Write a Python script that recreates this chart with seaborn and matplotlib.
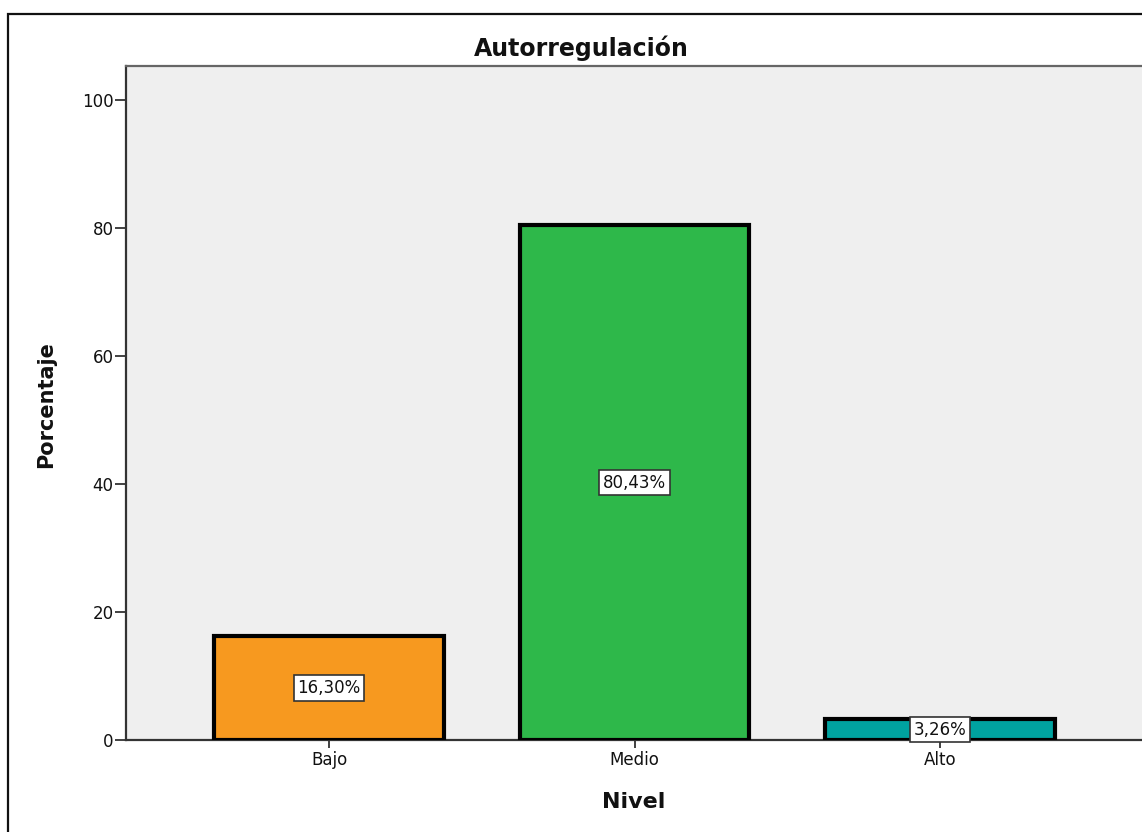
import matplotlib
matplotlib.use("Agg")
import matplotlib.pyplot as plt
from matplotlib.patches import Rectangle
import seaborn as sns
import pandas as pd

# Data
niveles = ["Bajo", "Medio", "Alto"]
porcentajes = [16.30, 80.43, 3.26]
colores = ["#F7991F", "#2EB84A", "#00A3A0"]
y_ticks = [0, 20, 40, 60, 80, 100]

sns.set_theme(style="white")
plt.rcParams["font.family"] = ["DejaVu Sans"]

W, H = 1142, 832
fig = plt.figure(figsize=(W / 100, H / 100), dpi=100)
ax = fig.add_axes([126 / W, (H - 740) / H, (1143 - 126) / W, (740 - 66) / H])

df = pd.DataFrame({"Nivel": niveles, "Porcentaje": porcentajes})
sns.barplot(data=df, x="Nivel", y="Porcentaje", hue="Nivel", palette=colores,
            order=niveles, hue_order=niveles, width=0.753, legend=False, saturation=1,
            edgecolor="black", linewidth=3, ax=ax, zorder=3)

ax.set_facecolor("#EFEFEF")
ax.set_xlim(-0.665, 2.665)
ax.set_ylim(0, 105.3)
ax.set_yticks(y_ticks)
ax.set_yticklabels([str(t) for t in y_ticks], fontsize=12, color="#111111")
ax.tick_params(axis="y", direction="out", length=8, width=1.3, color="#333333", pad=1, left=True)
ax.tick_params(axis="x", direction="out", length=6, width=1.3, color="#333333", pad=2, bottom=True,
               labelsize=12, labelcolor="#111111")

for side in ["left", "bottom"]:
    ax.spines[side].set_color("#333333")
    ax.spines[side].set_linewidth(1.6)
ax.spines["top"].set_color("#666666")
ax.spines["top"].set_linewidth(1.6)
ax.spines["right"].set_visible(False)

ax.set_xlabel("Nivel", fontsize=16, fontweight="bold", va="center", color="#111111")
ax.set_ylabel("Porcentaje", fontsize=15, fontweight="bold", va="center", color="#111111")
ax.xaxis.set_label_coords(634 / W, 1 - 802 / H, transform=fig.transFigure)
ax.yaxis.set_label_coords(46 / W, 1 - 405 / H, transform=fig.transFigure)

# Value labels in boxes at the middle of each bar
for i, v in enumerate(porcentajes):
    txt = f"{v:.2f}".replace(".", ",") + "%"
    ax.text(i, v / 2, txt, ha="center", va="center", fontsize=12, color="#111111", zorder=5,
            bbox=dict(boxstyle="square,pad=0.22", facecolor="white", edgecolor="#333333", linewidth=1.2))

fig.text(581 / W, 1 - 48 / H, "Autorregulación", ha="center", va="center",
         fontsize=17, fontweight="bold", color="#111111")

# Outer frame
fig.patches.append(Rectangle((7.5 / W, -0.1), 1.2, (H - 13.5) / H + 0.1, transform=fig.transFigure,
                             fill=False, edgecolor="#111111", linewidth=1.6))

fig.savefig("out.png", dpi=100, facecolor="white")
